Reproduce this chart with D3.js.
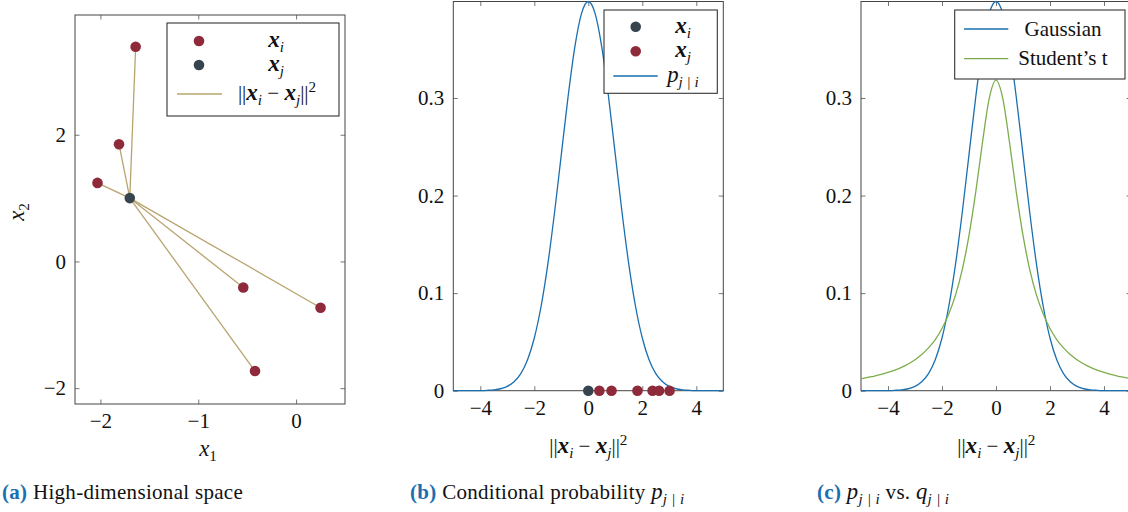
<!DOCTYPE html>
<html>
<head>
<meta charset="utf-8">
<script src="https://cdn.jsdelivr.net/npm/d3@7"></script>
<style>
  body { margin: 0; background: #fff; }
  svg text { font-family: "Liberation Serif", "DejaVu Serif", serif; fill: #111; }
</style>
</head>
<body>
<svg id="chart" width="1128" height="512"></svg>
<script>
/* global d3 */

// ---- data ----
// (a) points in the high-dimensional space
const neighbourX = [-1.64, -1.81, -2.03, -0.54, 0.25, -0.42];
const neighbourY = [3.39, 1.85, 1.24, -0.41, -0.73, -1.73];
const centerX = -1.70;
const centerY = 1.00;

// (b) distances of the neighbours from the centre point
const distances = [0.41, 0.86, 1.82, 2.38, 2.62, 3.01];

// curve samples, (b) and (c)
const curveX = [-5, -4.75, -4.5, -4.25, -4, -3.75, -3.5, -3.25, -3, -2.75, -2.5, -2.25, -2, -1.75, -1.5, -1.25,
  -1, -0.75, -0.5, -0.25, 0, 0.25, 0.5, 0.75, 1, 1.25, 1.5, 1.75, 2, 2.25, 2.5, 2.75, 3, 3.25, 3.5, 3.75,
  4, 4.25, 4.5, 4.75, 5];
const gaussianY = [0, 0, 0, 0, 0.0001, 0.0004, 0.0009, 0.002, 0.0044, 0.0091, 0.0175, 0.0317, 0.054, 0.0863,
  0.1295, 0.1826, 0.242, 0.3011, 0.3521, 0.3867, 0.3989, 0.3867, 0.3521, 0.3011, 0.242, 0.1826, 0.1295,
  0.0863, 0.054, 0.0317, 0.0175, 0.0091, 0.0044, 0.002, 0.0009, 0.0004, 0.0001, 0, 0, 0, 0];
const studentY = [0.0122, 0.0136, 0.015, 0.0167, 0.0187, 0.021, 0.0239, 0.0274, 0.0318, 0.0372, 0.0439, 0.0524,
  0.0637, 0.0786, 0.0979, 0.1241, 0.1592, 0.2037, 0.2546, 0.2996, 0.3183, 0.2996, 0.2546, 0.2037, 0.1592,
  0.1241, 0.0979, 0.0786, 0.0637, 0.0524, 0.0439, 0.0372, 0.0318, 0.0274, 0.0239, 0.021, 0.0187, 0.0167,
  0.015, 0.0136, 0.0122];

// tick values
const aTicksX = [-2, -1, 0];
const aTicksY = [-2, 0, 2];
const curveTicksX = [-4, -2, 0, 2, 4];
const curveTicksY = [0, 0.1, 0.2, 0.3];

// ---- colours ----
const red = "#8e2a3a";
const dark = "#36444f";
const tan = "#b8a46e";
const blue = "#1a6fb0";
const green = "#7cad4c";

const FS = 21;
const svg = d3.select("#chart");
const fmt = (d) => String(d).replace("-", "\u2212");

// write a small piece of maths as tspans
const addMath = (txt, pieces, fs) => {
  let shift = 0;
  pieces.forEach(([s, k]) => {
    let target = 0;
    if (k === "sub" || k === "subi") target = fs * 0.25;
    if (k === "sup") target = -fs * 0.4;
    const t = txt.append("tspan").text(s).attr("dy", target - shift);
    shift = target;
    if (target !== 0) t.attr("font-size", fs * 0.72);
    if (k === "bi") t.attr("font-weight", "bold").attr("font-style", "italic").attr("font-size", fs * 1.1);
    if (k === "i" || k === "subi") t.attr("font-style", "italic");
    if (k === "i") t.attr("font-size", fs * 1.08);
  });
  return txt;
};

const distPieces = [["||", "r"], ["x", "bi"], ["i", "subi"], [" \u2212 ", "r"], ["x", "bi"], ["j", "subi"],
  ["||", "r"], ["2", "sup"]];

// frame with inward ticks on all four sides
function drawFrame(g, x, y, ticksX, ticksY) {
  const [x0, x1] = x.range();
  const [y0, y1] = y.range();
  const tk = 4.5;

  g.append("g").attr("transform", "translate(0," + y0 + ")")
    .call(d3.axisBottom(x).tickValues(ticksX).tickSizeInner(-tk).tickSizeOuter(0).tickPadding(9).tickFormat(fmt));
  g.append("g").attr("transform", "translate(0," + y1 + ")")
    .call(d3.axisTop(x).tickValues(ticksX).tickSizeInner(-tk).tickSizeOuter(0).tickFormat(""));
  g.append("g").attr("transform", "translate(" + x0 + ",0)")
    .call(d3.axisLeft(y).tickValues(ticksY).tickSizeInner(-tk).tickSizeOuter(0).tickPadding(9).tickFormat(fmt));
  g.append("g").attr("transform", "translate(" + x1 + ",0)")
    .call(d3.axisRight(y).tickValues(ticksY).tickSizeInner(-tk).tickSizeOuter(0).tickFormat(""));

  g.selectAll(".domain").remove();
  g.selectAll(".tick line").attr("stroke", "#777").attr("stroke-width", 1);
  g.selectAll(".tick text").attr("font-size", FS).attr("font-family", "Liberation Serif").attr("fill", "#111");

  g.append("rect")
    .attr("x", x0).attr("y", y1)
    .attr("width", x1 - x0).attr("height", y0 - y1)
    .attr("fill", "none").attr("stroke", "#444").attr("stroke-width", 1);
}

function legendBox(g, x0, y0, x1, y1) {
  g.append("rect").attr("x", x0).attr("y", y0).attr("width", x1 - x0).attr("height", y1 - y0)
    .attr("fill", "#fff").attr("stroke", "#333").attr("stroke-width", 1.1);
}

function caption(x, letter, pieces) {
  const t = svg.append("text").attr("x", x).attr("y", 499).attr("font-size", FS).attr("letter-spacing", 0.3);
  t.append("tspan").text("(" + letter + ")").attr("font-weight", "bold").attr("fill", blue);
  addMath(t, pieces, FS);
}

/* ---------- (a) high-dimensional space ---------- */
{
  const g = svg.append("g");
  const x = d3.scaleLinear().domain([-2.26, 0.5]).range([75, 345]);
  const y = d3.scaleLinear().domain([-2.25, 3.89]).range([404, 15]);

  drawFrame(g, x, y, aTicksX, aTicksY);

  g.selectAll(".link").data(neighbourX).join("line")
    .attr("x1", x(centerX)).attr("y1", y(centerY))
    .attr("x2", (d) => x(d)).attr("y2", (d, i) => y(neighbourY[i]))
    .attr("stroke", tan).attr("stroke-width", 1.3);

  g.selectAll(".pt").data(neighbourX).join("circle")
    .attr("cx", (d) => x(d)).attr("cy", (d, i) => y(neighbourY[i]))
    .attr("r", 5.3).attr("fill", red);
  g.append("circle").attr("cx", x(centerX)).attr("cy", y(centerY)).attr("r", 5.3).attr("fill", dark);

  // legend
  legendBox(g, 167, 23, 339, 116);
  g.append("circle").attr("cx", 199).attr("cy", 41).attr("r", 5.3).attr("fill", red);
  g.append("circle").attr("cx", 199).attr("cy", 65).attr("r", 5.3).attr("fill", dark);
  g.append("line").attr("x1", 177).attr("x2", 222).attr("y1", 94).attr("y2", 94)
    .attr("stroke", tan).attr("stroke-width", 1.3);
  addMath(g.append("text").attr("x", 276).attr("y", 47).attr("font-size", FS).attr("text-anchor", "middle"),
    [["x", "bi"], ["i", "subi"]], FS);
  addMath(g.append("text").attr("x", 276).attr("y", 71).attr("font-size", FS).attr("text-anchor", "middle"),
    [["x", "bi"], ["j", "subi"]], FS);
  addMath(g.append("text").attr("x", 277).attr("y", 100).attr("font-size", FS).attr("text-anchor", "middle"),
    distPieces, FS);

  // axis labels
  addMath(g.append("text").attr("x", 208).attr("y", 456).attr("font-size", FS).attr("text-anchor", "middle"),
    [["x", "i"], ["1", "sub"]], FS);
  addMath(g.append("text").attr("transform", "translate(24,212) rotate(-90)").attr("font-size", FS)
    .attr("text-anchor", "middle"), [["x", "i"], ["2", "sub"]], FS);

  caption(2, "a", [[" High-dimensional space", "r"]]);
}

/* ---------- (b) conditional probability ---------- */
{
  const g = svg.append("g");
  const x = d3.scaleLinear().domain([-5, 5]).range([453.3, 723.3]);
  const y = d3.scaleLinear().domain([0, 0.3989]).range([390.7, 1.5]);

  drawFrame(g, x, y, curveTicksX, curveTicksY);

  const line = d3.line().curve(d3.curveMonotoneX)
    .x((d, i) => x(curveX[i])).y((d) => y(d));
  g.append("path").attr("d", line(gaussianY)).attr("fill", "none")
    .attr("stroke", blue).attr("stroke-width", 1.3);

  g.append("circle").attr("cx", x(0)).attr("cy", y(0)).attr("r", 5.3).attr("fill", dark);
  g.selectAll(".dist").data(distances).join("circle")
    .attr("cx", (d) => x(d)).attr("cy", y(0)).attr("r", 5.3).attr("fill", red);

  legendBox(g, 604, 10, 717.3, 93.3);
  g.append("circle").attr("cx", 635.7).attr("cy", 26.7).attr("r", 5.3).attr("fill", dark);
  g.append("circle").attr("cx", 635.7).attr("cy", 51.3).attr("r", 5.3).attr("fill", red);
  g.append("line").attr("x1", 613.3).attr("x2", 657.7).attr("y1", 76).attr("y2", 76)
    .attr("stroke", blue).attr("stroke-width", 1.3);
  addMath(g.append("text").attr("x", 683).attr("y", 32.5).attr("font-size", FS).attr("text-anchor", "middle"),
    [["x", "bi"], ["i", "subi"]], FS);
  addMath(g.append("text").attr("x", 683).attr("y", 57).attr("font-size", FS).attr("text-anchor", "middle"),
    [["x", "bi"], ["j", "subi"]], FS);
  addMath(g.append("text").attr("x", 683).attr("y", 81.5).attr("font-size", FS).attr("text-anchor", "middle"),
    [["p", "i"], ["j | i", "subi"]], FS);

  addMath(g.append("text").attr("x", 588.3).attr("y", 453).attr("font-size", FS).attr("text-anchor", "middle"),
    distPieces, FS);

  caption(410, "b", [[" Conditional probability ", "r"], ["p", "i"], ["j | i", "subi"]]);
}

/* ---------- (c) Gaussian vs Student's t ---------- */
{
  const g = svg.append("g");
  const x = d3.scaleLinear().domain([-5, 5]).range([861, 1131]);
  const y = d3.scaleLinear().domain([0, 0.3989]).range([390.7, 1.5]);

  drawFrame(g, x, y, curveTicksX, curveTicksY);

  const line = d3.line().curve(d3.curveMonotoneX)
    .x((d, i) => x(curveX[i])).y((d) => y(d));
  g.append("path").attr("d", line(gaussianY)).attr("fill", "none")
    .attr("stroke", blue).attr("stroke-width", 1.3);
  g.append("path").attr("d", line(studentY)).attr("fill", "none")
    .attr("stroke", green).attr("stroke-width", 1.3);

  legendBox(g, 954.7, 10, 1125, 79);
  g.append("line").attr("x1", 964).attr("x2", 1008.3).attr("y1", 29).attr("y2", 29)
    .attr("stroke", blue).attr("stroke-width", 1.3);
  g.append("line").attr("x1", 964).attr("x2", 1008.3).attr("y1", 58.7).attr("y2", 58.7)
    .attr("stroke", green).attr("stroke-width", 1.3);
  g.append("text").attr("x", 1063).attr("y", 35.5).attr("font-size", FS).attr("text-anchor", "middle")
    .text("Gaussian");
  g.append("text").attr("x", 1063).attr("y", 65).attr("font-size", FS).attr("text-anchor", "middle")
    .text("Student\u2019s t");

  addMath(g.append("text").attr("x", 996.3).attr("y", 453).attr("font-size", FS).attr("text-anchor", "middle"),
    distPieces, FS);

  caption(817, "c", [[" ", "r"], ["p", "i"], ["j | i", "subi"], [" vs. ", "r"], ["q", "i"], ["j | i", "subi"]]);
}
</script>
</body>
</html>
